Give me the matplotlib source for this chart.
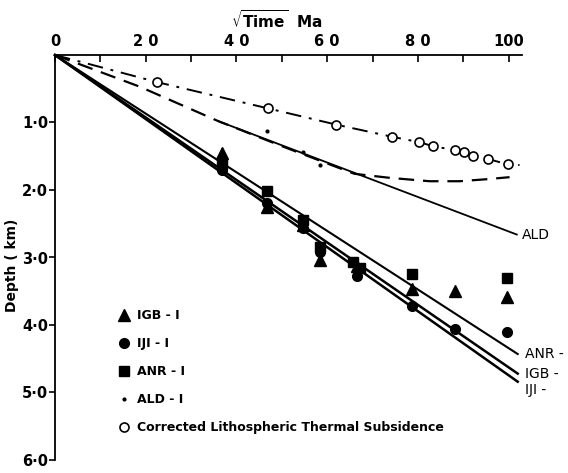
import numpy as np
import matplotlib
matplotlib.use('Agg')
import matplotlib.pyplot as plt
from matplotlib.lines import Line2D

# sqrt(time) in Ma^0.5, depth in km
# corrected lithospheric thermal subsidence (open circles on dash-dot curve)
thermal_x = [22.4, 46.9, 61.9, 74.2, 80.2, 83.3, 88.1, 90.1, 92.1, 95.4, 99.8]
thermal_depth = [0.40, 0.79, 1.03, 1.21, 1.29, 1.35, 1.41, 1.44, 1.49, 1.54, 1.62]
thermal_curve_x = [0] + thermal_x + [102.4]
thermal_curve_depth = [0] + thermal_depth + [1.63]

# dashed curve from origin that flattens out
dashed_x = [0, 18.7, 36.0, 50.0, 66.0, 73.8, 82.6, 89.2, 95.2, 100.2]
dashed_depth = [0, 0.47, 0.98, 1.35, 1.76, 1.82, 1.87, 1.87, 1.84, 1.81]

# ALD solid line
ald_line_x = [36.0, 101.8]
ald_line_depth = [0.98, 2.66]

# straight fitted lines from origin
fit_line_x = [0, 102]
iji_line_depth = [0, 4.84]
igb_line_depth = [0, 4.72]
anr_line_depth = [0, 4.43]

# well data
igb_x = [36.8, 46.7, 54.6, 58.4, 66.5, 78.6, 88.1, 99.6]
igb_depth = [1.45, 2.25, 2.52, 3.04, 3.12, 3.47, 3.50, 3.59]
iji_x = [36.8, 46.7, 54.6, 58.4, 66.5, 78.6, 88.1, 99.6]
iji_depth = [1.70, 2.20, 2.57, 2.92, 3.28, 3.72, 4.06, 4.10]
anr_x = [36.8, 46.7, 54.6, 58.4, 65.8, 67.2, 78.6, 99.6]
anr_depth = [1.62, 2.02, 2.45, 2.84, 3.07, 3.15, 3.25, 3.31]
ald_x = [46.7, 54.6, 58.4]
ald_depth = [1.12, 1.43, 1.63]

xticks = [0, 20, 40, 60, 80, 100]
xtick_labels = ['0', '2 0', '4 0', '6 0', '8 0', '100']
yticks = [1, 2, 3, 4, 5, 6]
ytick_labels = ['1·0', '2·0', '3·0', '4·0', '5·0', '6·0']

W, H = 568, 473
fig = plt.figure(figsize=(W / 100, H / 100), dpi=100)
ax = fig.add_axes([55 / W, 13 / H, 499 / W, 405 / H])
ax.set_xlim(0, 110)
ax.set_ylim(6.0, 0)

# curves
ax.plot(thermal_curve_x, thermal_curve_depth, color='black', lw=1.4,
        dashes=(8, 4, 1.5, 4), clip_on=False)
ax.plot(thermal_x, thermal_depth, 'o', ms=6.5, mfc='white', mec='black',
        mew=1.2, clip_on=False)
ax.plot(dashed_x, dashed_depth, color='black', lw=1.6, dashes=(7, 4),
        clip_on=False)
ax.plot(ald_line_x, ald_line_depth, color='black', lw=1.3, clip_on=False)
ax.plot(fit_line_x, iji_line_depth, color='black', lw=1.8, clip_on=False)
ax.plot(fit_line_x, igb_line_depth, color='black', lw=1.8, clip_on=False)
ax.plot(fit_line_x, anr_line_depth, color='black', lw=1.5, clip_on=False)

# data points
ax.plot(igb_x, igb_depth, '^', color='black', ms=8)
ax.plot(iji_x, iji_depth, 'o', color='black', ms=7)
ax.plot(anr_x, anr_depth, 's', color='black', ms=7)
ax.plot(ald_x, ald_depth, '.', color='black', ms=4)

# line-end labels
ax.text(103, 2.66, 'ALD', fontsize=10, va='center', ha='left')
ax.text(103.5, 4.43, 'ANR -', fontsize=10, va='center', ha='left')
ax.text(103.5, 4.72, 'IGB -', fontsize=10, va='center', ha='left')
ax.text(103.5, 4.96, 'IJI -', fontsize=10, va='center', ha='left')

# legend
handles = [
    Line2D([], [], marker='^', color='black', ls='none', ms=8),
    Line2D([], [], marker='o', color='black', ls='none', ms=7),
    Line2D([], [], marker='s', color='black', ls='none', ms=7),
    Line2D([], [], marker='.', color='black', ls='none', ms=4),
    Line2D([], [], marker='o', mfc='white', mec='black', mew=1.2,
           ls='none', ms=6.5),
]
labels = ['IGB - I', 'IJI - I', 'ANR - I', 'ALD - I',
          'Corrected Lithospheric Thermal Subsidence']
leg = ax.legend(handles, labels, loc='upper left', frameon=False,
                bbox_to_anchor=(108 / W, 1 - 298 / H),
                bbox_transform=fig.transFigure, handlelength=0.8,
                handletextpad=0.6, labelspacing=1.2,
                prop={'size': 9, 'weight': 'bold'})

# axes styling
ax.xaxis.tick_top()
ax.set_xticks(xticks)
ax.set_xticklabels(xtick_labels, fontsize=10.5, fontweight='bold')
ax.set_xticks([10, 30, 50, 70, 90], minor=True)
ax.tick_params(axis='x', which='both', direction='in', length=5, width=1.2,
               pad=4)
ax.set_yticks(yticks)
ax.set_yticklabels(ytick_labels, fontsize=10.5, fontweight='bold')
ax.tick_params(axis='y', direction='out', length=4, width=1.2, pad=1)
ax.spines['right'].set_visible(False)
ax.spines['bottom'].set_visible(False)
ax.spines['top'].set_bounds(0, 103)
ax.spines['top'].set_linewidth(1.3)
ax.spines['left'].set_linewidth(1.3)

fig.text(277 / W, 1 - 20 / H, r'$\sqrt{\mathbf{Time}}$  Ma', fontsize=11,
         fontweight='bold', ha='center', va='center')
fig.text(12 / W, 1 - 265 / H, 'Depth ( km)', rotation=90, fontsize=10,
         fontweight='bold', ha='center', va='center')

fig.savefig('out.png', dpi=100)
